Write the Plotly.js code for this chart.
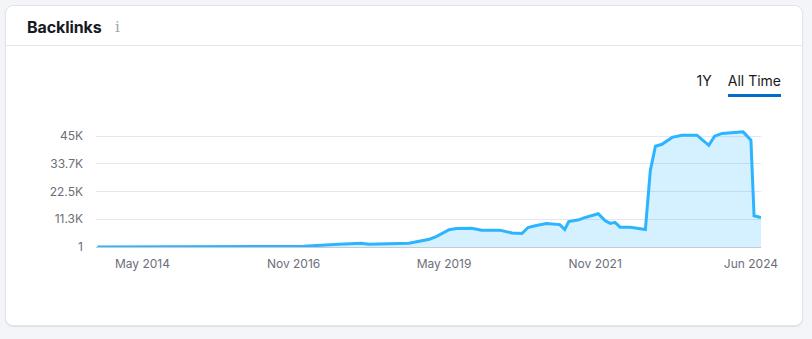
<!DOCTYPE html>
<html>
<head>
<meta charset="utf-8">
<script src="https://cdn.plot.ly/plotly-3.0.1.min.js"></script>
<style>
  html, body { margin: 0; padding: 0; width: 812px; height: 339px; background: #f4f5f9; overflow: hidden; font-family: Inter, "Noto Sans", sans-serif; }
  #card { position: absolute; left: 5px; top: 5px; width: 796px; height: 319px; background: #fff; border: 1px solid #e3e4ea; border-radius: 8px; box-shadow: 0 1px 1px rgba(0,0,0,0.08); }
  #hdr { position: absolute; left: 0; top: 0; width: 796px; height: 39px; border-bottom: 1px solid #e3e4ea; }
  #title { position: absolute; left: 21px; top: 11px; font-size: 16px; font-weight: 700; color: #171a22; letter-spacing: -0.1px; }
  #info { position: absolute; left: 109px; top: 12px; font-size: 15px; font-family: "DejaVu Serif", serif; color: #a0a3ad; }
  #tabs { position: absolute; top: 66px; right: 21px; font-size: 14px; color: #171a22; }
  #tabs span { display: inline-block; margin-left: 16px; position: relative; }
  #tabs span.act::after { content: ""; position: absolute; left: 0; right: 0; top: 22px; height: 3px; background: #006dca; }
  #chart { position: absolute; left: 0; top: 0; width: 812px; height: 339px; }
</style>
</head>
<body>
<div id="card">
  <div id="hdr"><div id="title">Backlinks</div><div id="info">i</div></div>
  <div id="tabs"><span>1Y</span><span class="act">All Time</span></div>
</div>
<div id="chart"></div>
<script>
const dates = [
  '2013-08-01','2014-06-01','2015-06-01','2016-06-01','2016-10-01','2017-01-01','2017-08-01','2017-12-15',
  '2018-02-01','2018-10-01','2019-02-01','2019-03-15','2019-06-01','2019-07-15','2019-10-15','2019-12-15',
  '2020-04-01','2020-06-15','2020-08-15','2020-09-20','2020-11-10','2021-01-10','2021-04-01','2021-05-01',
  '2021-05-25','2021-07-25','2021-08-25','2021-11-20','2022-01-01','2022-02-01','2022-03-01','2022-04-01',
  '2022-06-01','2022-09-01','2022-10-01','2022-11-01','2022-12-10','2023-02-10','2023-04-10','2023-07-10',
  '2023-09-20','2023-10-25','2023-12-10','2024-04-15','2024-06-01','2024-06-20','2024-08-01'
];
const backlinks = [
  1, 1, 1, 1, 100, 300, 1100, 1500,
  1100, 1500, 3150, 4200, 7000, 7500, 7650, 6850,
  6850, 5700, 5450, 7900, 8700, 9550, 9100, 7100,
  10350, 11050, 11850, 13500, 10650, 9600, 10000, 8050,
  8000, 7100, 31100, 40900, 41700, 44500, 45400, 45400,
  41300, 45000, 46100, 46750, 43400, 12700, 12000
];
const yTickVals = [1, 11250, 22500, 33750, 45000];
const yTickText = ['1', '11.3K', '22.5K', '33.7K', '45K'];
const xTickVals = ['2014-05-01', '2016-11-01', '2019-05-01', '2021-11-01', '2024-06-01'];
const xTickText = ['May 2014', 'Nov 2016', 'May 2019', 'Nov 2021', 'Jun 2024'];

const trace = {
  x: dates, y: backlinks, type: 'scatter', mode: 'lines',
  line: { color: '#2cb4ff', width: 3, shape: 'linear' },
  fill: 'tozeroy', fillcolor: 'rgba(44,180,255,0.2)',
  hoverinfo: 'skip'
};
const layout = {
  width: 812, height: 339,
  paper_bgcolor: 'rgba(0,0,0,0)', plot_bgcolor: 'rgba(0,0,0,0)',
  margin: { l: 96, r: 51, t: 130, b: 92, pad: 0 },
  showlegend: false,
  font: { family: 'Inter, "Noto Sans", sans-serif', size: 12, color: '#6c6e79' },
  xaxis: {
    type: 'date', range: ['2013-07-24', '2024-08-01'],
    tickvals: xTickVals, ticktext: xTickText,
    showgrid: false, zeroline: false, showline: true, linecolor: '#c8cad3', linewidth: 1,
    ticks: '', ticklabelstandoff: 6, fixedrange: true
  },
  yaxis: {
    range: [0, 47500], tickvals: yTickVals, ticktext: yTickText,
    showgrid: true, gridcolor: '#e6e7ee', gridwidth: 1, zeroline: false, showline: false,
    ticks: '', ticklabelstandoff: 12, fixedrange: true
  }
};
Plotly.newPlot('chart', [trace], layout, { displayModeBar: false, staticPlot: true });
</script>
</body>
</html>
